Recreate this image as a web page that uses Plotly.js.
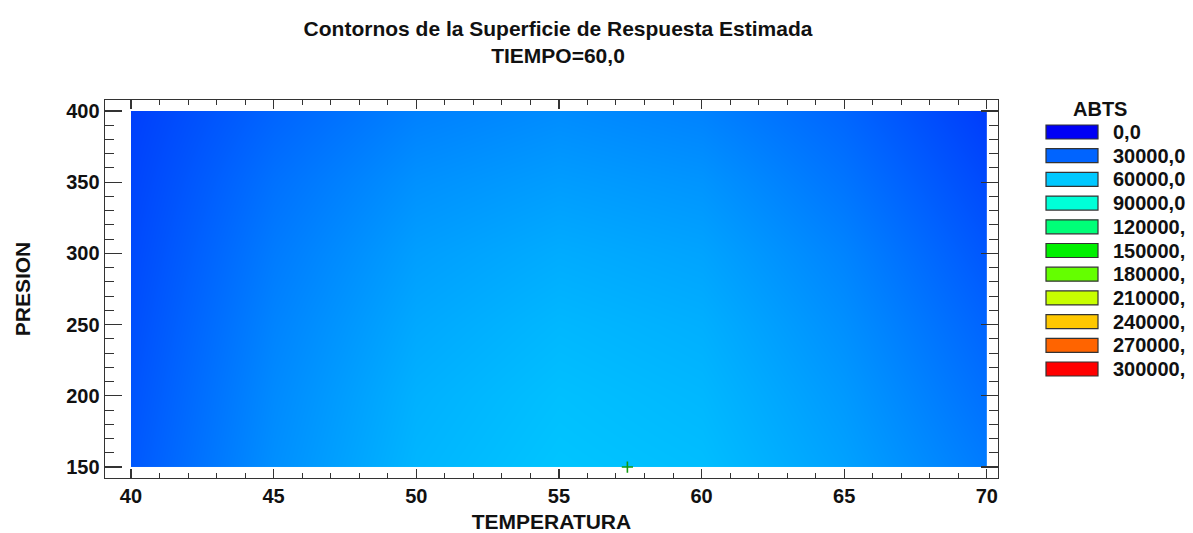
<!DOCTYPE html>
<html><head><meta charset="utf-8">
<script src="https://cdn.plot.ly/plotly-3.0.1.min.js"></script>
<style>html,body{margin:0;padding:0;background:#fff}#chart{width:1193px;height:533px}</style>
</head><body><div id="chart"></div>
<script>
// Data
const temperatura = [40, 45, 50, 55, 60, 65, 70];
const presion = [150, 200, 250, 300, 350, 400];
const abts = [
  [26500, 43000, 54500, 59000, 57000, 48500, 37000], // P=150
  [25000, 41500, 53000, 57500, 55000, 46000, 33500], // P=200
  [23500, 39500, 50500, 55000, 52500, 43000, 30000], // P=250
  [22000, 37000, 47500, 51500, 49000, 39500, 26000], // P=300
  [20500, 34000, 43500, 47000, 44500, 35000, 22000], // P=350
  [19000, 30000, 38500, 42000, 39000, 30500, 18000]  // P=400
];
const levels = [0, 30000, 60000, 90000, 120000, 150000, 180000, 210000, 240000, 270000, 300000];
const levelLabels = ["0,0", "30000,0", "60000,0", "90000,0", "120000,", "150000,", "180000,", "210000,", "240000,", "270000,", "300000,"];
const levelColors = ["#0000f5", "#0064ff", "#00c8ff", "#00ffd8", "#00ff78", "#00f000", "#64ff00", "#c8ff00", "#ffc800", "#ff6400", "#ff0000"];
const optimoT = [57.4];
const optimoP = [150];

const W = 1193, H = 533;
const M = {l: 105, r: 195, t: 100, b: 55};
const pw = W - M.l - M.r, ph = H - M.t - M.b;
const px = x => (x - M.l) / pw;
const py = y => (H - M.b - y) / ph;

const zmax = levels[levels.length - 1];
const colorscale = levels.map((v, i) => [v / zmax, levelColors[i]]);

const FONT = 'Liberation Sans, Arial, sans-serif';

const traces = [
  {
    type: 'contour',
    x: temperatura, y: presion, z: abts,
    zmin: 0, zmax: zmax, zauto: false,
    colorscale: colorscale,
    showscale: false,
    contours: {coloring: 'heatmap', showlines: false, start: 0, end: zmax, size: 30000},
    line: {width: 0},
    hoverinfo: 'x+y+z'
  },
  {
    type: 'scatter', mode: 'markers',
    x: optimoT, y: optimoP,
    marker: {symbol: 'cross-thin', size: 8, line: {color: '#119911', width: 1.6}},
    cliponaxis: false, showlegend: false
  }
];

const shapes = [], annotations = [];
const boxL = 1046, boxR = 1098, boxH = 14, firstY = 132, step = 23.7;
levels.forEach((v, i) => {
  const cy = firstY + i * step;
  shapes.push({type: 'rect', xref: 'paper', yref: 'paper',
    x0: px(boxL), x1: px(boxR), y0: py(cy + boxH / 2), y1: py(cy - boxH / 2),
    fillcolor: levelColors[i], line: {color: '#333', width: 1.2}});
  annotations.push({xref: 'paper', yref: 'paper', x: px(1111), y: py(cy),
    xanchor: 'left', yanchor: 'middle', showarrow: false,
    text: '<b>' + levelLabels[i] + '</b>', font: {family: FONT, size: 20, color: '#111'}});
});
annotations.push({xref: 'paper', yref: 'paper', x: px(1100), y: py(109),
  xanchor: 'center', yanchor: 'middle', showarrow: false,
  text: '<b>ABTS</b>', font: {family: FONT, size: 20, color: '#111'}});

const layout = {
  width: W, height: H,
  margin: M,
  paper_bgcolor: '#fff', plot_bgcolor: '#fff',
  showlegend: false,
  font: {family: FONT, size: 20, color: '#111'},
  title: {
    text: '<b>Contornos de la Superficie de Respuesta Estimada</b><br><b>TIEMPO=60,0</b>',
    font: {family: FONT, size: 21, color: '#111'},
    xref: 'paper', x: (558 - M.l) / pw, xanchor: 'center',
    yref: 'container', y: 1 - 36 / H, yanchor: 'top'
  },
  xaxis: {
    range: [39.09, 70.39], autorange: false,
    tickmode: 'linear', tick0: 40, dtick: 5,
    ticks: 'inside', ticklen: 9, tickwidth: 1.2, tickcolor: '#333',
    minor: {dtick: 1, ticks: 'inside', ticklen: 5, tickwidth: 1, tickcolor: '#333'},
    showline: true, linecolor: '#333', linewidth: 1.4, mirror: 'ticks',
    showgrid: false, zeroline: false,
    tickfont: {family: FONT, size: 20, color: '#111'},
    tickprefix: '<b>', ticksuffix: '</b>',
    title: {text: '<b>TEMPERATURA</b>', font: {family: FONT, size: 21, color: '#111'}, standoff: 8}
  },
  yaxis: {
    range: [142.3, 407.7], autorange: false,
    tickmode: 'linear', tick0: 150, dtick: 50,
    ticks: 'inside', ticklen: 17, tickwidth: 1.2, tickcolor: '#333',
    minor: {dtick: 10, ticks: 'inside', ticklen: 9, tickwidth: 1, tickcolor: '#333'},
    showline: true, linecolor: '#333', linewidth: 1.4, mirror: 'ticks',
    showgrid: false, zeroline: false,
    tickfont: {family: FONT, size: 20, color: '#111'},
    tickprefix: '<b>', ticksuffix: '</b>',
    title: {text: '<b>PRESION</b>', font: {family: FONT, size: 21, color: '#111'}, standoff: 30}
  },
  shapes: shapes,
  annotations: annotations
};

Plotly.newPlot('chart', traces, layout, {displayModeBar: false, staticPlot: true});
</script>
</body></html>
